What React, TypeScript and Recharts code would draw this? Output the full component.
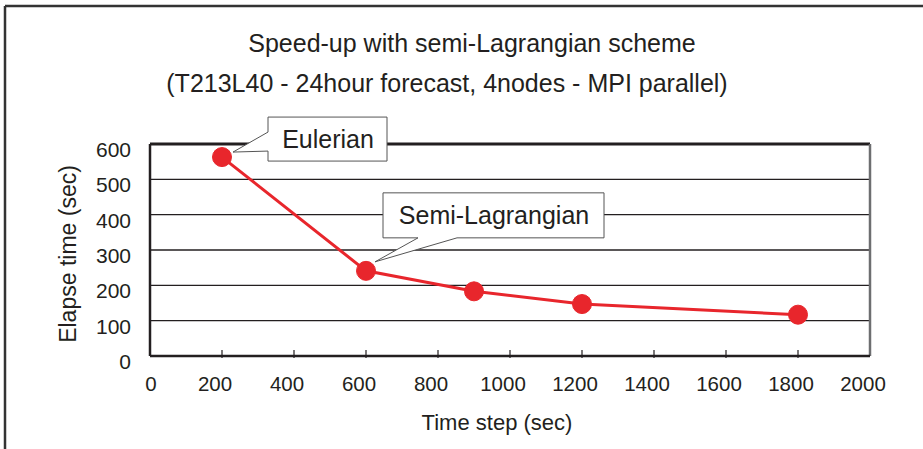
import React from "react";
import {
  LineChart,
  Line,
  XAxis,
  YAxis,
  CartesianGrid,
  ReferenceLine,
} from "recharts";

const timeSteps = [200, 600, 900, 1200, 1800];
const elapsedSec = [563, 241, 183, 147, 117];
const calloutNames = ["Eulerian", "Semi-Lagrangian"];
const xTicks = [0, 200, 400, 600, 800, 1000, 1200, 1400, 1600, 1800, 2000];
const yTicks = [0, 100, 200, 300, 400, 500, 600];

const data = timeSteps.map((t, i) => ({ step: t, elapsed: elapsedSec[i] }));

const FONT = "'Liberation Sans', Arial, sans-serif";
const RED = "#e8262c";
const INK = "#231f20";

function XTick(props: any) {
  const { x, y, payload } = props;
  // labels in the original sit a little left of their tick marks
  const shift = payload.value > 0 ? -7 : 1;
  return (
    <g>
      {payload.value > 0 && payload.value < 2000 && (
        <line x1={x} y1={y} x2={x} y2={y - 8} stroke={INK} strokeWidth={1.2} />
      )}
      <text x={x + shift} y={y + 33} textAnchor="middle" fontSize={20.5} fill={INK} fontFamily={FONT}>
        {payload.value}
      </text>
    </g>
  );
}

function YTick(props: any) {
  const { x, y, payload } = props;
  return (
    <text x={x - 17} y={y + 13} textAnchor="end" fontSize={21} fill={INK} fontFamily={FONT}>
      {payload.value}
    </text>
  );
}

function Callout(props: any) {
  const { x, y, index } = props;
  if (index === 0) {
    const l = x + 46, r = x + 165, t = y - 40, b = y + 4;
    const d = `M${l},${t} H${r} V${b} H${l} V${y - 6} L${x + 11},${y - 5} L${l},${y - 25} Z`;
    return (
      <g>
        <path d={d} fill="#fff" stroke="#555" strokeWidth={1} />
        <text x={x + 106} y={y - 9} textAnchor="middle" fontSize={25} fill={INK} fontFamily={FONT}>
          {calloutNames[0]}
        </text>
      </g>
    );
  }
  if (index === 1) {
    const l = x + 17, r = x + 238, t = y - 78, b = y - 33;
    const d = `M${l},${t} H${r} V${b} H${x + 91} L${x + 9},${y - 9} L${x + 52},${b} H${l} Z`;
    return (
      <g>
        <path d={d} fill="#fff" stroke="#555" strokeWidth={1} />
        <text x={x + 128} y={y - 47} textAnchor="middle" fontSize={25} fill={INK} fontFamily={FONT}>
          {calloutNames[1]}
        </text>
      </g>
    );
  }
  return null;
}

export default function App() {
  return (
    <div style={{ position: "absolute", left: 0, top: 0, width: 923, height: 449, background: "#fff" }}>
      <svg width={923} height={449} style={{ position: "absolute", left: 0, top: 0 }}>
        <line x1={5} y1={6} x2={923} y2={6} stroke="#333" strokeWidth={2.5} />
        <line x1={5} y1={6} x2={5} y2={449} stroke="#333" strokeWidth={2.5} />
        <text x={472} y={52} textAnchor="middle" fontSize={25} fill={INK} fontFamily={FONT}>
          Speed-up with semi-Lagrangian scheme
        </text>
        <text x={447} y={92} textAnchor="middle" fontSize={25} fill={INK} fontFamily={FONT}>
          (T213L40 - 24hour forecast, 4nodes - MPI parallel)
        </text>
        <text x={497} y={430} textAnchor="middle" fontSize={22} fill={INK} fontFamily={FONT}>
          Time step (sec)
        </text>
        <text
          x={0}
          y={0}
          transform="translate(76,254) rotate(-90)"
          textAnchor="middle"
          fontSize={23}
          fill={INK}
          fontFamily={FONT}
        >
          Elapse time (sec)
        </text>
      </svg>
      <div style={{ position: "absolute", left: 0, top: 0 }}>
        <LineChart
          width={923}
          height={449}
          data={data}
          margin={{ top: 144, right: 53, bottom: 63, left: 90 }}
        >
          <CartesianGrid
            vertical={false}
            stroke={INK}
            strokeWidth={1.3}
            strokeOpacity={1}
          />
          <ReferenceLine y={600} stroke={INK} strokeWidth={3} />
          <ReferenceLine x={2000} stroke="#6d6e70" strokeWidth={2.5} />
          <XAxis
            dataKey="step"
            type="number"
            domain={[0, 2000]}
            ticks={xTicks}
            interval={0}
            tickSize={0}
            tickLine={false}
            height={30}
            axisLine={{ stroke: INK, strokeWidth: 2.5 }}
            tick={<XTick />}
          />
          <YAxis
            type="number"
            domain={[0, 600]}
            ticks={yTicks}
            interval={0}
            tickSize={0}
            tickLine={false}
            width={60}
            axisLine={{ stroke: INK, strokeWidth: 2.5 }}
            tick={<YTick />}
          />
          <Line
            dataKey="elapsed"
            stroke={RED}
            strokeWidth={3}
            isAnimationActive={false}
            dot={{ r: 9.5, fill: RED, stroke: RED, strokeWidth: 1 }}
            activeDot={false}
            label={(p: any) => <Callout {...p} />}
          />
        </LineChart>
      </div>
    </div>
  );
}
